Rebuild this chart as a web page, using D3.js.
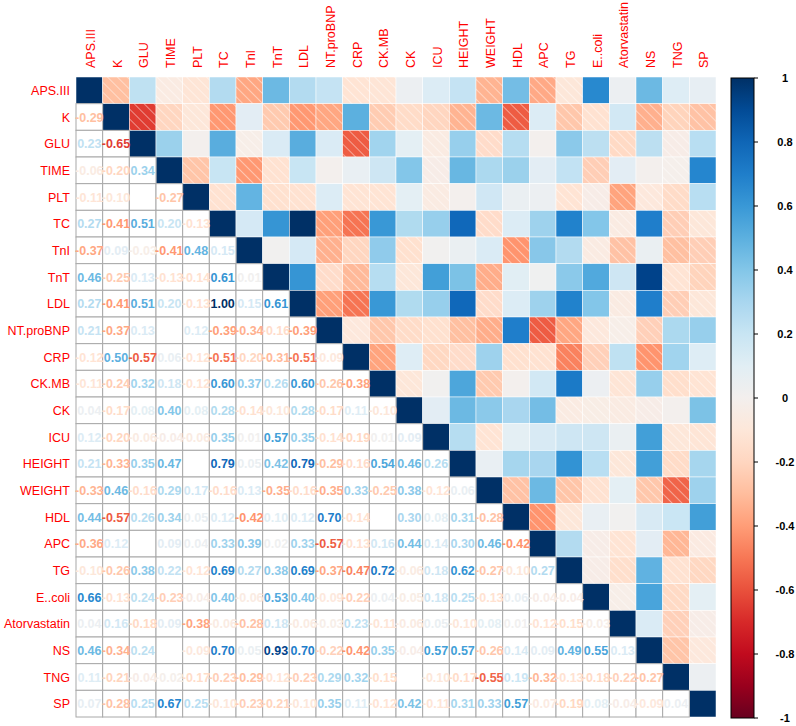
<!DOCTYPE html>
<html>
<head>
<meta charset="utf-8">
<script src="https://cdn.jsdelivr.net/npm/d3@7"></script>
<style>
  body { margin: 0; background: #fff; }
  text { font-family: "Liberation Sans", Arial, sans-serif; }
</style>
</head>
<body>
<div id="chart"></div>
<script>
// variable names (rows and columns)
const vars = ["APS.III", "K", "GLU", "TIME", "PLT", "TC", "TnI", "TnT", "LDL", "NT.proBNP",
  "CRP", "CK.MB", "CK", "ICU", "HEIGHT", "WEIGHT", "HDL", "APC", "TG", "E..coli",
  "Atorvastatin", "NS", "TNG", "SP"];

// lower triangle of the correlation matrix, row i holds columns 0..i-1
const corrLower = [
  [],
  [-0.29],
  [0.23, -0.65],
  [-0.06, -0.20, 0.34],
  [-0.11, -0.10, 0.00, -0.27],
  [0.27, -0.41, 0.51, 0.20, -0.13],
  [-0.37, 0.09, -0.03, -0.41, 0.48, 0.15],
  [0.46, -0.25, 0.13, -0.13, -0.14, 0.61, 0.01],
  [0.27, -0.41, 0.51, 0.20, -0.13, 1.00, 0.15, 0.61],
  [0.21, -0.37, 0.13, 0.00, 0.12, -0.39, -0.34, -0.16, -0.39],
  [-0.12, 0.50, -0.57, 0.06, -0.12, -0.51, -0.20, -0.31, -0.51, -0.09],
  [-0.11, -0.24, 0.32, 0.18, -0.12, 0.60, 0.37, 0.26, 0.60, -0.26, -0.38],
  [0.04, -0.17, 0.08, 0.40, 0.08, 0.28, -0.14, -0.10, 0.28, -0.17, 0.11, -0.10],
  [0.12, -0.20, -0.06, -0.04, -0.06, 0.35, 0.01, 0.57, 0.35, -0.14, -0.19, 0.01, 0.09],
  [0.21, -0.33, 0.35, 0.47, 0.00, 0.79, 0.05, 0.42, 0.79, -0.29, -0.16, 0.54, 0.46, 0.26],
  [-0.33, 0.46, -0.16, 0.29, 0.17, -0.16, 0.13, -0.35, -0.16, -0.35, 0.33, -0.25, 0.38, -0.12, 0.06],
  [0.44, -0.57, 0.26, 0.34, 0.05, 0.12, -0.42, 0.10, 0.12, 0.70, -0.14, 0.00, 0.30, 0.08, 0.31, -0.28],
  [-0.36, 0.12, 0.00, 0.09, 0.04, 0.33, 0.39, 0.02, 0.33, -0.57, -0.13, 0.16, 0.44, 0.14, 0.30, 0.46, -0.42],
  [-0.10, -0.26, 0.38, 0.22, -0.12, 0.69, 0.27, 0.38, 0.69, -0.37, -0.47, 0.72, -0.06, 0.18, 0.62, -0.27, -0.10, 0.27],
  [0.66, -0.13, 0.24, -0.23, -0.04, 0.40, -0.06, 0.53, 0.40, -0.09, -0.22, 0.04, -0.05, 0.18, 0.25, -0.13, 0.06, -0.04, -0.04],
  [0.04, 0.16, -0.18, 0.09, -0.38, -0.06, -0.28, 0.18, -0.06, -0.03, 0.23, -0.11, -0.06, 0.05, -0.10, 0.08, 0.01, -0.12, -0.15, -0.03],
  [0.46, -0.34, 0.24, 0.00, -0.09, 0.70, 0.05, 0.93, 0.70, -0.22, -0.42, 0.35, -0.04, 0.57, 0.57, -0.26, 0.14, 0.09, 0.49, 0.55, 0.13],
  [0.11, -0.21, -0.04, -0.02, -0.17, -0.23, -0.29, -0.12, -0.23, 0.29, 0.32, -0.15, 0.00, -0.10, -0.17, -0.55, 0.19, -0.32, -0.13, -0.18, -0.22, -0.27],
  [0.07, -0.28, 0.25, 0.67, 0.25, -0.10, -0.23, -0.21, -0.10, 0.35, 0.11, -0.12, 0.42, -0.11, 0.31, 0.33, 0.57, -0.07, -0.19, 0.08, -0.04, -0.09, 0.04]
];

const legendTicks = [1, 0.8, 0.6, 0.4, 0.2, 0, -0.2, -0.4, -0.6, -0.8, -1];

const width = 796, height = 726;
const gridLeft = 76, gridTop = 77, gridSize = 640;

// build full symmetric matrix
let cells = [];
vars.forEach((rv, i) => {
  vars.forEach((cv, j) => {
    let v;
    if (i === j) v = 1;
    else if (j < i) v = corrLower[i][j];
    else v = corrLower[j][i];
    cells.push({row: rv, col: cv, i: i, j: j, value: v});
  });
});

const svg = d3.select("#chart").append("svg")
  .attr("width", width)
  .attr("height", height);

const x = d3.scaleBand().domain(vars).range([gridLeft, gridLeft + gridSize]);
const y = d3.scaleBand().domain(vars).range([gridTop, gridTop + gridSize]);

// RdBu, pushed a bit more saturated like the reference
const rdbu = t => {
  let c = d3.hsl(d3.interpolateRdBu(t));
  c.s = Math.min(1, c.s * 1.3);
  return c.formatHex();
};
const color = v => rdbu((v + 1) / 2);

// white hatching for negative cells
const defs = svg.append("defs");
const pattern = defs.append("pattern")
  .attr("id", "hatch")
  .attr("patternUnits", "userSpaceOnUse")
  .attr("width", 7)
  .attr("height", 7)
  .attr("patternTransform", "rotate(-45)");
pattern.append("line")
  .attr("x1", 0).attr("y1", 0)
  .attr("x2", 0).attr("y2", 7)
  .attr("stroke", "#fff")
  .attr("stroke-width", 1.2)
  .attr("stroke-opacity", 0.75);

// upper triangle + diagonal: shaded squares
const upper = cells.filter(d => d.j >= d.i);
svg.append("g").selectAll("rect")
  .data(upper)
  .enter().append("rect")
  .attr("x", d => x(d.col))
  .attr("y", d => y(d.row))
  .attr("width", x.bandwidth())
  .attr("height", y.bandwidth())
  .attr("fill", d => color(d.value))
  .attr("stroke", "#fff")
  .attr("stroke-width", 0.5);

svg.append("g").selectAll("rect")
  .data(upper.filter(d => d.value < 0))
  .enter().append("rect")
  .attr("x", d => x(d.col))
  .attr("y", d => y(d.row))
  .attr("width", x.bandwidth())
  .attr("height", y.bandwidth())
  .attr("fill", "url(#hatch)");

// lower triangle: numbers in grid cells
const lower = cells.filter(d => d.j < d.i);
svg.append("g").selectAll("rect")
  .data(lower)
  .enter().append("rect")
  .attr("x", d => x(d.col))
  .attr("y", d => y(d.row))
  .attr("width", x.bandwidth())
  .attr("height", y.bandwidth())
  .attr("fill", "#fff")
  .attr("stroke", "#a8a8a8")
  .attr("stroke-width", 1);

svg.append("g").selectAll("text")
  .data(lower.filter(d => d.value !== 0))
  .enter().append("text")
  .attr("x", d => x(d.col) + x.bandwidth() / 2)
  .attr("y", d => y(d.row) + y.bandwidth() / 2)
  .attr("dy", "0.36em")
  .attr("text-anchor", "middle")
  .style("font-size", "12.5px")
  .style("font-weight", "bold")
  .attr("fill", d => color(d.value))
  .text(d => d3.format(".2f")(d.value).replace("−", "-"));

// row labels
svg.append("g").selectAll("text")
  .data(vars)
  .enter().append("text")
  .attr("x", gridLeft - 6)
  .attr("y", d => y(d) + y.bandwidth() / 2)
  .attr("dy", "0.36em")
  .attr("text-anchor", "end")
  .attr("fill", "#ff0000")
  .style("font-size", "12.5px")
  .text(d => d);

// column labels
svg.append("g").selectAll("text")
  .data(vars)
  .enter().append("text")
  .attr("transform", d => `translate(${x(d) + x.bandwidth() / 2 + 1},${gridTop - 9}) rotate(-90)`)
  .attr("dy", "0.36em")
  .attr("text-anchor", "start")
  .attr("fill", "#ff0000")
  .style("font-size", "12.5px")
  .text(d => d);

// colour legend
const legX = 731, legW = 23;
const ly = d3.scaleLinear().domain([-1, 1]).range([gridTop + gridSize + 1, gridTop + 1]);
const grad = defs.append("linearGradient")
  .attr("id", "legendGrad")
  .attr("x1", 0).attr("y1", 1)
  .attr("x2", 0).attr("y2", 0);
d3.range(0, 1.0001, 0.05).forEach(t => {
  grad.append("stop")
    .attr("offset", t)
    .attr("stop-color", rdbu(t));
});
svg.append("rect")
  .attr("x", legX)
  .attr("y", ly(1))
  .attr("width", legW)
  .attr("height", ly(-1) - ly(1))
  .attr("fill", "url(#legendGrad)")
  .attr("stroke", "#000")
  .attr("stroke-width", 1);

const legTick = svg.append("g").selectAll("g")
  .data(legendTicks)
  .enter().append("g")
  .attr("transform", d => `translate(0,${ly(d)})`);
legTick.append("line")
  .attr("x1", legX + legW)
  .attr("x2", legX + legW + 4)
  .attr("stroke", "#000");
legTick.append("text")
  .attr("x", 785)
  .attr("dy", "0.36em")
  .attr("text-anchor", "middle")
  .style("font-size", "11px")
  .style("font-weight", "bold")
  .attr("fill", "#000")
  .text(d => d3.format("")(d).replace("−", "-"));
</script>
</body>
</html>
